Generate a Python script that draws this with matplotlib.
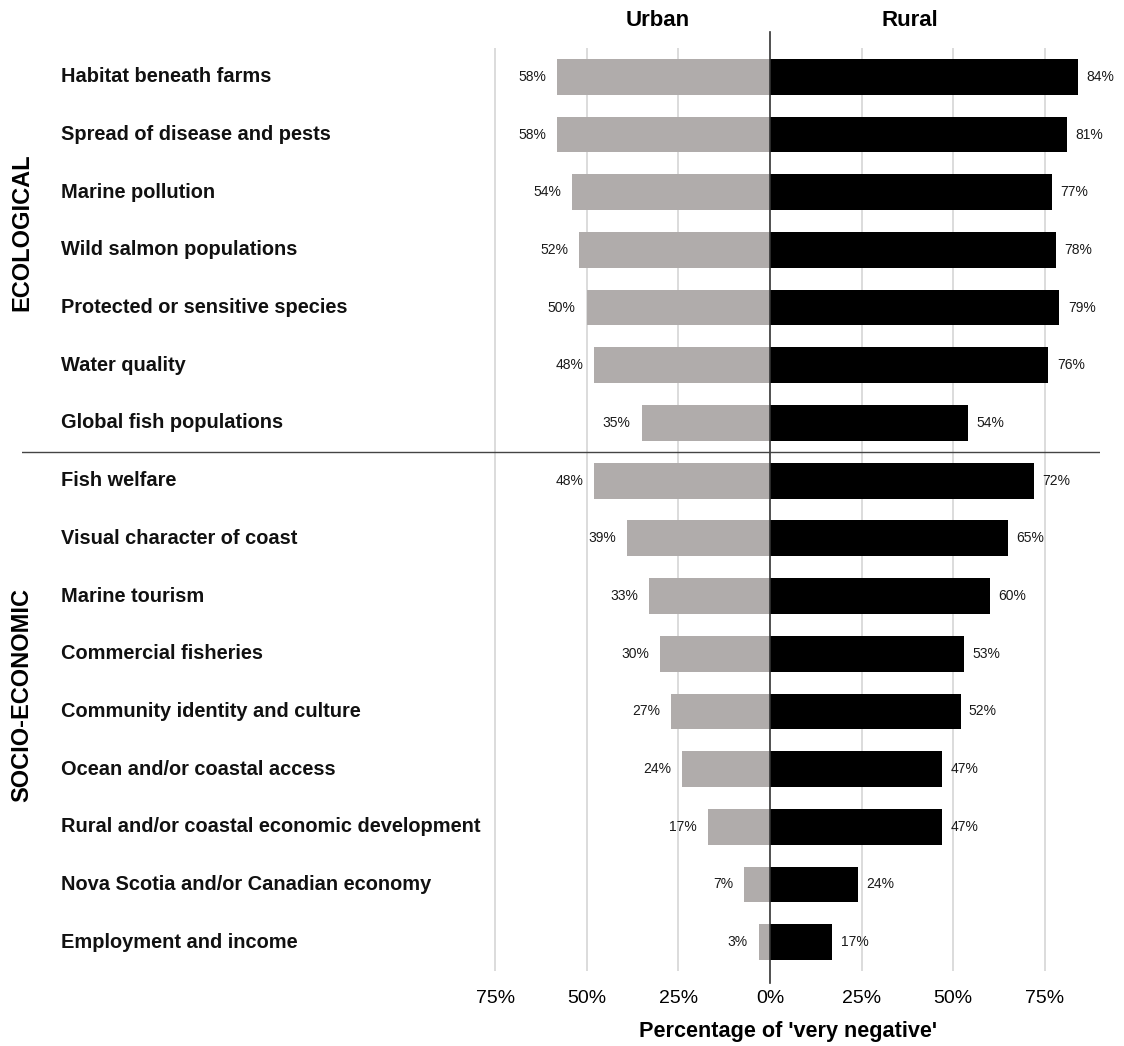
import matplotlib
matplotlib.use("Agg")
import matplotlib.pyplot as plt

plt.rcParams['font.family'] = ['Liberation Sans', 'DejaVu Sans']

categories = [
    "Habitat beneath farms",
    "Spread of disease and pests",
    "Marine pollution",
    "Wild salmon populations",
    "Protected or sensitive species",
    "Water quality",
    "Global fish populations",
    "Fish welfare",
    "Visual character of coast",
    "Marine tourism",
    "Commercial fisheries",
    "Community identity and culture",
    "Ocean and/or coastal access",
    "Rural and/or coastal economic development",
    "Nova Scotia and/or Canadian economy",
    "Employment and income",
]
urban = [58, 58, 54, 52, 50, 48, 35, 48, 39, 33, 30, 27, 24, 17, 7, 3]
rural = [84, 81, 77, 78, 79, 76, 54, 72, 65, 60, 53, 52, 47, 47, 24, 17]
groups = ["ECOLOGICAL", "SOCIO-ECONOMIC"]
group_sizes = [7, 9]
tick_vals = [-75, -50, -25, 0, 25, 50, 75]
tick_labels = ["75%", "50%", "25%", "0%", "25%", "50%", "75%"]

W, H = 1124, 1046
fig = plt.figure(figsize=(W / 100, H / 100), dpi=100)
left_px, right_px, top_px, bot_px = 22, 1100, 48, 971
ax = fig.add_axes([left_px / W, 1 - bot_px / H, (right_px - left_px) / W, (bot_px - top_px) / H])

ppx = 25 / 91.6  # percent per pixel
xmin = (left_px - 770) * ppx
xmax = (right_px - 770) * ppx
n = len(categories)
ax.set_xlim(xmin, xmax)
ax.set_ylim(n - 0.5, -0.5)

for t in tick_vals:
    if t != 0:
        ax.axvline(t, color="#d9d9d9", lw=1.3, zorder=0)

y = list(range(n))
ax.barh(y, [-u for u in urban], height=0.62, color="#b0acab", zorder=2)
ax.barh(y, rural, height=0.62, color="#000000", zorder=2)

for i in range(n):
    ax.annotate(f"{urban[i]}%", (-urban[i], i), xytext=(-8, 0), textcoords="offset points",
                ha="right", va="center", fontsize=10, color="#1a1a1a")
    ax.annotate(f"{rural[i]}%", (rural[i], i), xytext=(6, 0), textcoords="offset points",
                ha="left", va="center", fontsize=10, color="#1a1a1a")
    ax.text((61 - 770) * ppx, i, categories[i], ha="left", va="center",
            fontsize=14.4, fontweight="bold", color="#111111")

# zero line
ax.plot([0, 0], [-0.78, n - 0.29], color="#333333", lw=1.2, clip_on=False, zorder=3)
# group separator
ax.axhline(group_sizes[0] - 0.5, color="#444444", lw=1.0, zorder=3)

# group labels
fig.text(22 / W, 1 - 232 / H, groups[0], rotation=90,
         ha="center", va="center", fontsize=17, fontweight="bold")
fig.text(22 / W, 1 - 695 / H, groups[1], rotation=90,
         ha="center", va="center", fontsize=17, fontweight="bold")

# headers
fig.text(658 / W, 1 - 20 / H, "Urban", ha="center", va="center", fontsize=16, fontweight="bold")
fig.text(910 / W, 1 - 20 / H, "Rural", ha="center", va="center", fontsize=16, fontweight="bold")

ax.set_xticks(tick_vals)
ax.set_xticklabels(tick_labels, fontsize=14)
ax.tick_params(axis="x", length=0, pad=14)
ax.set_yticks([])
for s in ax.spines.values():
    s.set_visible(False)

fig.text(788 / W, 1 - 1031 / H, "Percentage of 'very negative'", ha="center", va="center",
         fontsize=15.6, fontweight="bold")

fig.savefig("out.png", dpi=100)
